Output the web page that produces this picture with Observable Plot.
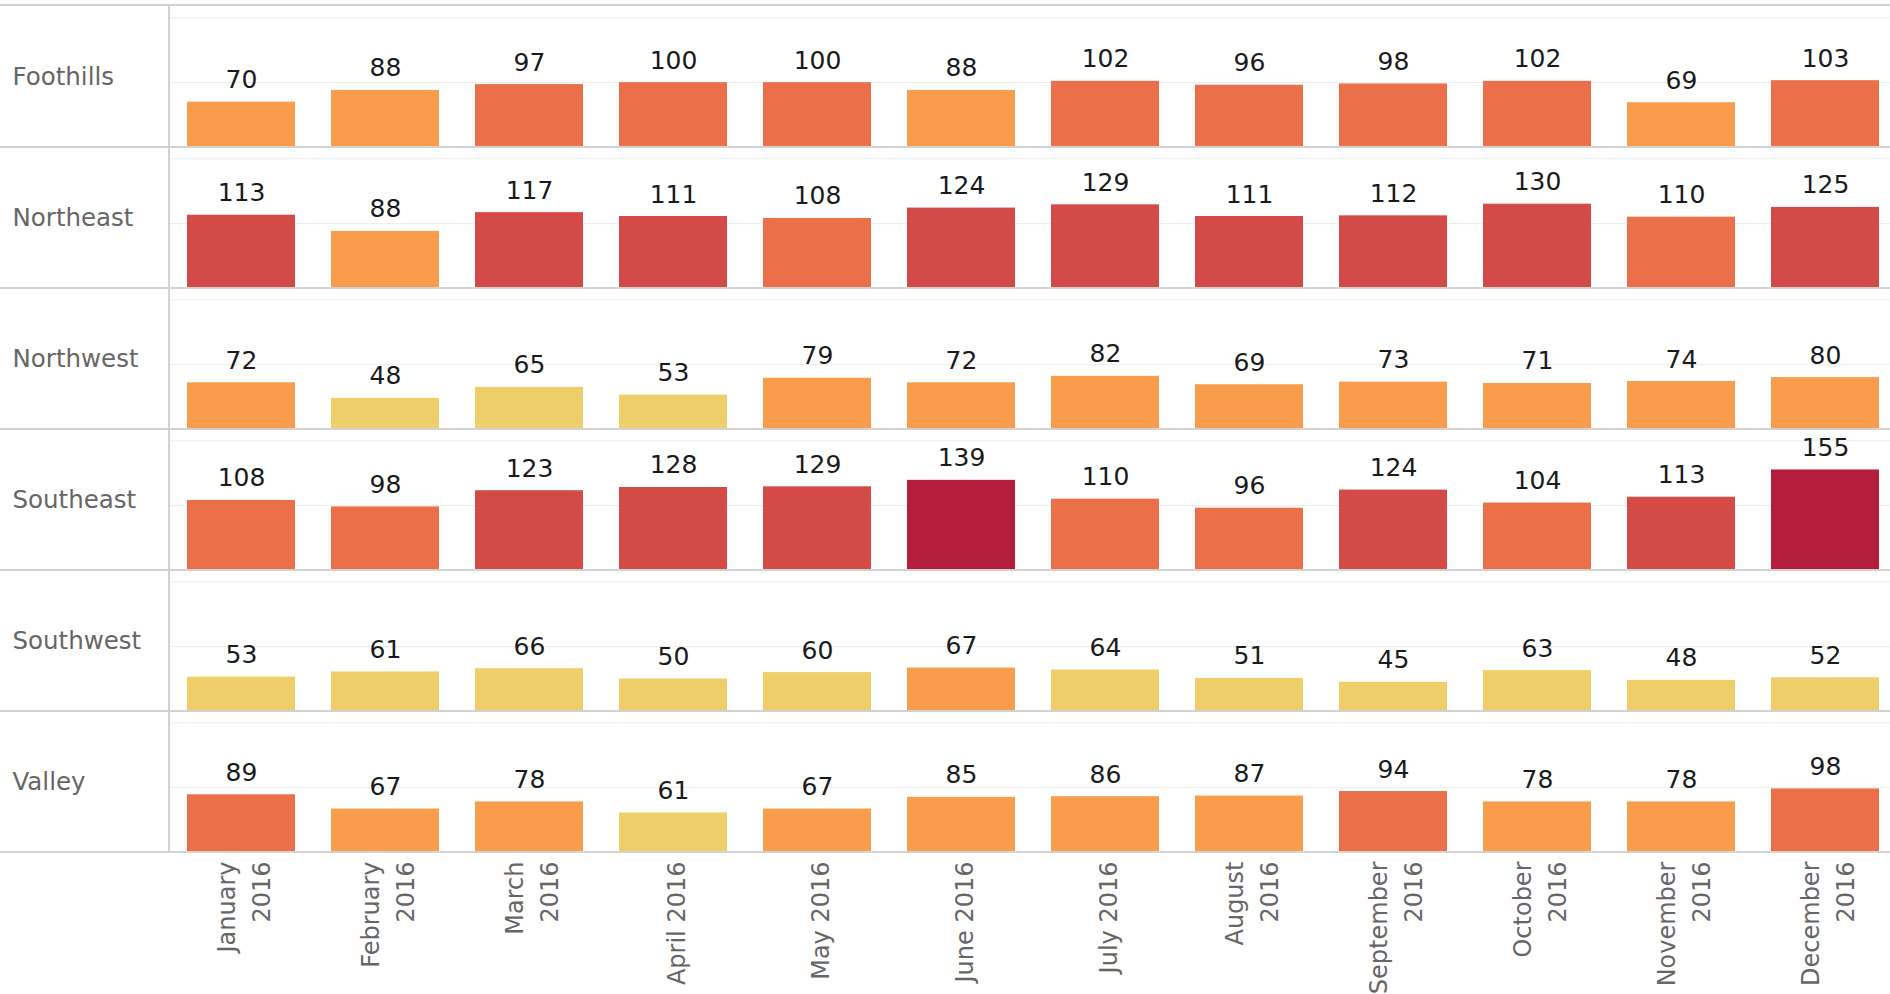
<!DOCTYPE html>
<html>
<head>
<meta charset="utf-8">
<script src="https://cdn.jsdelivr.net/npm/d3@7"></script>
<script src="https://cdn.jsdelivr.net/npm/@observablehq/plot@0.6"></script>
<style>
html, body { margin: 0; padding: 0; background: #fff; overflow: hidden; }
</style>
</head>
<body>
<div id="chart"></div>
<script>
const regions = ["Foothills", "Northeast", "Northwest", "Southeast", "Southwest", "Valley"];
const months = ["January 2016", "February 2016", "March 2016", "April 2016", "May 2016", "June 2016",
  "July 2016", "August 2016", "September 2016", "October 2016", "November 2016", "December 2016"];
const monthLabels = ["January\n2016", "February\n2016", "March\n2016", "April 2016", "May 2016", "June 2016",
  "July 2016", "August\n2016", "September\n2016", "October\n2016", "November\n2016", "December\n2016"];

const foothills = [70, 88, 97, 100, 100, 88, 102, 96, 98, 102, 69, 103];
const northeast = [113, 88, 117, 111, 108, 124, 129, 111, 112, 130, 110, 125];
const northwest = [72, 48, 65, 53, 79, 72, 82, 69, 73, 71, 74, 80];
const southeast = [108, 98, 123, 128, 129, 139, 110, 96, 124, 104, 113, 155];
const southwest = [53, 61, 66, 50, 60, 67, 64, 51, 45, 63, 48, 52];
const valley = [89, 67, 78, 61, 67, 85, 86, 87, 94, 78, 78, 98];

const colorThresholds = [67, 89, 111, 133];
const colorRange = ["#efcf6a", "#f99d4d", "#eb7049", "#d44a47", "#b51d3c"];

const series = [foothills, northeast, northwest, southeast, southwest, valley];
const data = regions.flatMap((r, i) => series[i].map((v, j) => ({region: r, month: months[j], value: v})));

const chart = Plot.plot({
  width: 1890,
  height: 994,
  marginTop: 5,
  marginBottom: 141,
  marginLeft: 169,
  marginRight: 0,
  style: {fontFamily: "DejaVu Sans", background: "#fff", overflow: "visible"},
  x: {domain: months, range: [169, 1897], paddingInner: 0.25, paddingOuter: 0.125},
  y: {domain: [0, 217.4], axis: null},
  fy: {domain: regions, padding: 0, axis: null},
  color: {type: "threshold", domain: colorThresholds, range: colorRange},
  marks: [
    Plot.ruleY([100, 200], {stroke: "#ececec", strokeWidth: 1}),
    Plot.barY(data, {x: "month", y: "value", fy: "region", fill: "value"}),
    Plot.text(data, {x: "month", y: "value", fy: "region", text: d => String(d.value),
      lineAnchor: "bottom", dy: -14, fontSize: 25, fill: "#1a1a1a"}),
    Plot.text(regions, {fy: d => d, text: d => d, frameAnchor: "left", textAnchor: "start",
      dx: -157, fontSize: 24.5, fill: "#666"}),
    Plot.axisX({tickRotate: -90, tickSize: 0, tickPadding: 9, label: null,
      tickFormat: m => monthLabels[months.indexOf(m)], fontSize: 24, color: "#666",
      lineHeight: 1.45, textAnchor: "end", lineAnchor: "middle"})
  ]
});

document.getElementById("chart").appendChild(chart);

// Table grid lines (row separators across the whole width, header divider)
const svg = d3.select(chart);
const fy = chart.scale("fy");
const xs = chart.scale("x");
const topY = fy.range[0];
const bottomY = fy.range[1];
const g = svg.append("g").attr("stroke", "#d2d2d2").attr("stroke-width", 2);
g.append("line").attr("x1", 0).attr("x2", 1890).attr("y1", topY).attr("y2", topY);
regions.forEach(r => {
  const yb = fy.apply(r) + fy.bandwidth;
  g.append("line").attr("x1", 0).attr("x2", 1890).attr("y1", yb).attr("y2", yb);
});
g.append("line").attr("x1", xs.range[0]).attr("x2", xs.range[0]).attr("y1", topY).attr("y2", bottomY);
</script>
</body>
</html>
